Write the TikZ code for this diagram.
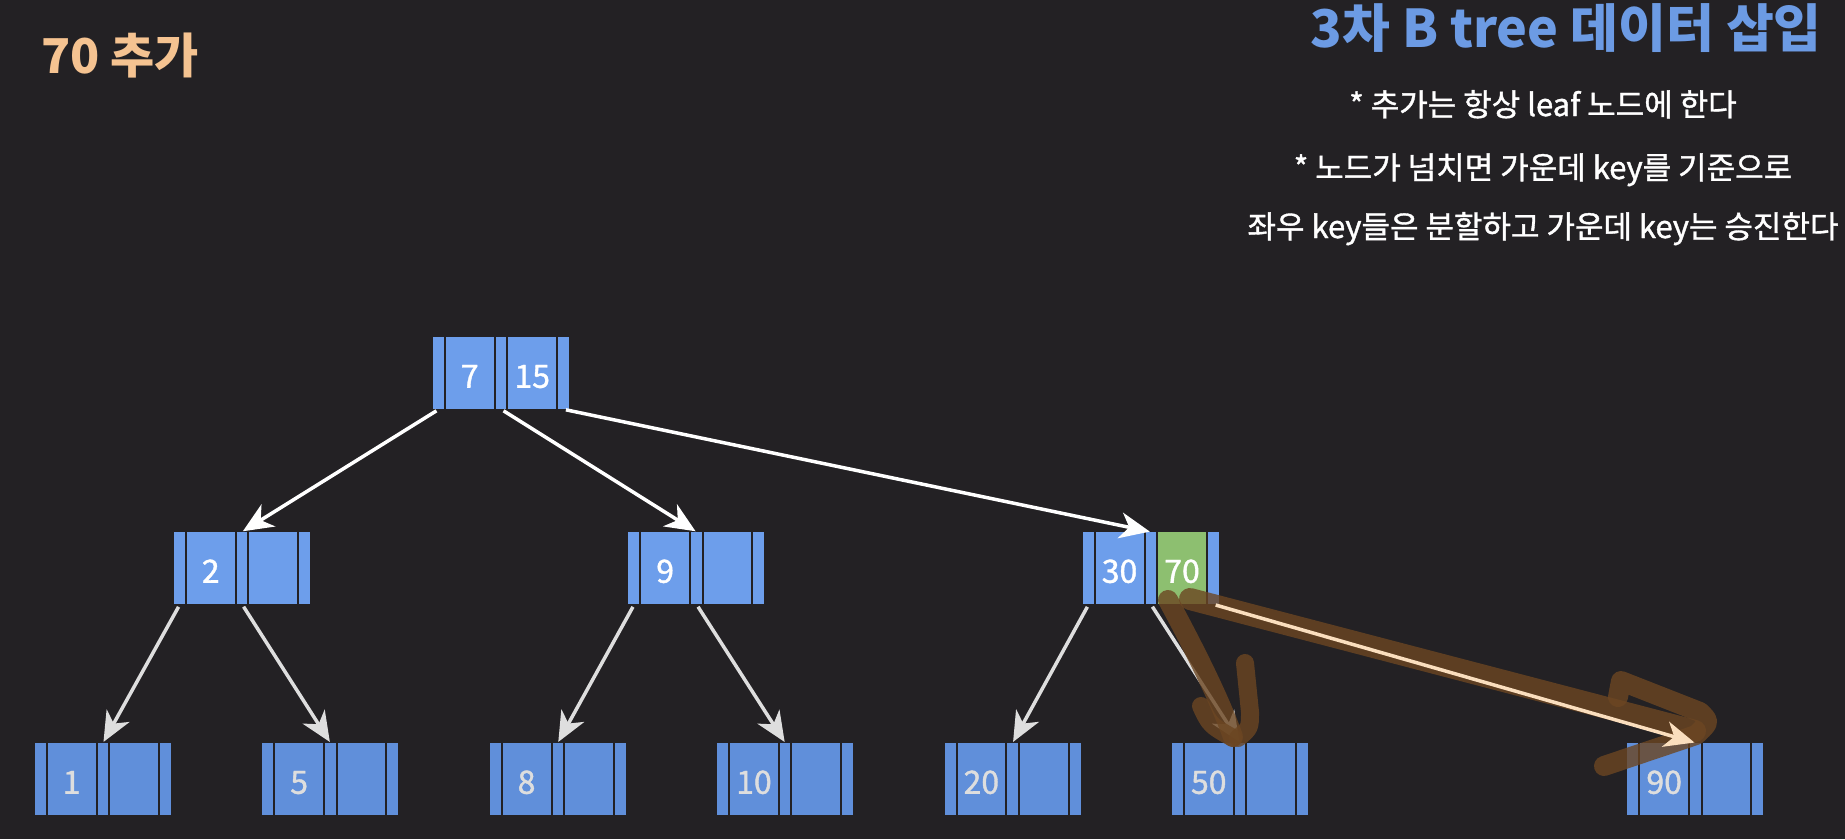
\documentclass[tikz,border=0pt]{standalone}
\usepackage{fontspec}
\setmainfont{Noto Sans CJK KR}
\newfontfamily\medfont{Noto Sans CJK KR}[FakeBold=1.2]
\usetikzlibrary{arrows.meta, positioning}

\definecolor{slidebg}{RGB}{35,33,36}
\definecolor{keyblue}{RGB}{109,158,235}
\definecolor{leafblue}{RGB}{96,143,218}
\definecolor{keygreen}{RGB}{141,191,112}
\definecolor{leafgray}{RGB}{222,222,222}
\definecolor{titleblue}{RGB}{108,155,228}
\definecolor{peach}{RGB}{245,195,145}
\definecolor{arrpeach}{RGB}{250,222,190}
\definecolor{marker}{RGB}{108,70,34}

\newcommand{\bkeys}[2]{\makebox[62.5pt]{#1}\makebox[62.5pt]{#2}}

\begin{document}
\begin{tikzpicture}[
  x=1pt, y=-1pt,
  cellline/.style={draw=slidebg, line width=2pt},
  bnode/.style={fill=keyblue, minimum width=136pt, minimum height=72pt, inner sep=0pt,
    text=white, font=\medfont\fontsize{32}{32}\selectfont, text height=29.5pt, text depth=0pt,
    path picture={
      \fill[#1] ([xshift=6.25pt]path picture bounding box.north) rectangle ([xshift=56pt]path picture bounding box.south);
      \foreach \dx in {-56,-6.25,6.25,56}
        \draw[cellline] ([xshift=\dx pt]path picture bounding box.north) -- ([xshift=\dx pt]path picture bounding box.south);
    }},
  bnode/.default=keyblue,
  leaf/.style={bnode=leafblue, fill=leafblue, text=leafgray},
  arr/.style={-{Stealth[length=30pt, width=26pt, inset=9pt]}, line width=3.5pt, draw=white, fill=white, shorten <=3pt, shorten >=1pt},
  arrlow/.style={arr, draw=leafgray, fill=leafgray},
  arrnew/.style={arr, draw=arrpeach, fill=arrpeach},
  markstroke/.style={draw=marker, line width=20pt, line cap=round, line join=round, opacity=.8},
  rule/.style={text=white, font=\medfont\fontsize{31}{32}\selectfont, inner sep=0pt, anchor=base}
]
\useasboundingbox[fill=slidebg] (0,0) rectangle (1845,839);

% texts
\node[text=peach, font=\bfseries\fontsize{48}{48}\selectfont, inner sep=0pt, anchor=base west] (addlbl) at (41,73) {70 추가};
\node[text=titleblue, font=\fontsize{52}{52}\selectfont\bfseries, inner sep=0pt, anchor=base east] (title) at (1822,47) {3차 B tree 데이터 삽입};
\node[rule] (rule1) at (1543,116) {* 추가는 항상 leaf 노드에 한다};
\node[rule] (rule2) at (1543,179) {* 노드가 넘치면 가운데 key를 기준으로};
\node[rule] (rule3) at (1543,238) {좌우 key들은 분할하고 가운데 key는 승진한다};

% tree
\node[bnode] (root) at (501,373) {\bkeys{7}{15}};

\node[bnode] (n2) at (242,568) {\bkeys{2}{}};
\node[bnode, right=318pt of n2] (n9) {\bkeys{9}{}};
\node[bnode=keygreen, right=318pt of n9] (n30) {\bkeys{30}{70}};

\node[leaf] (l1) at (103,779) {\bkeys{1}{}};
\node[leaf, right=91pt of l1] (l5) {\bkeys{5}{}};
\node[leaf, right=91pt of l5] (l8) {\bkeys{8}{}};
\node[leaf, right=91pt of l8] (l10) {\bkeys{10}{}};
\node[leaf, right=91pt of l10] (l20) {\bkeys{20}{}};
\node[leaf, right=91pt of l20] (l50) {\bkeys{50}{}};
\node[leaf, right=319pt of l50] (l90) {\bkeys{90}{}};

\draw[arr] ([xshift=-62pt]root.south) -- (n2.north);
\draw[arr] (root.south) -- (n9.north);
\draw[arr] ([xshift=62pt]root.south) -- (n30.north);

\draw[arrlow] ([xshift=-62pt]n2.south) -- (l1.north);
\draw[arrlow] (n2.south) -- (l5.north);
\draw[arrlow] ([xshift=-62pt]n9.south) -- (l8.north);
\draw[arrlow] (n9.south) -- (l10.north);
\draw[arrlow] ([xshift=-62pt]n30.south) -- (l20.north);
\draw[arrlow] (n30.south) -- (l50.north);

% hand-drawn marks
\draw[markstroke, line width=22pt] (1190,599) -- (1695,731);
\draw[markstroke] (1168,600) .. controls (1195,650) and (1220,700) .. (1233,737);
\draw[markstroke, line width=18pt] (1201,706) .. controls (1210,725) .. (1233,738);
\draw[markstroke, line width=18pt] (1245,663) -- (1250,712) .. controls (1250,728) .. (1238,738);
\draw[markstroke] (1618,697) -- (1621,681) -- (1700,712) .. controls (1710,722) .. (1696,735) -- (1604,766);

\draw[arrnew] ([xshift=62pt]n30.south) -- (l90.north);

\end{tikzpicture}
\end{document}
